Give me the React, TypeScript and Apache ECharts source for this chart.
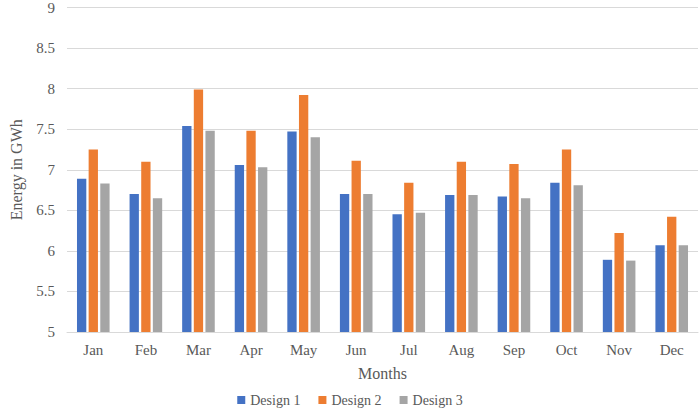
import React, { useEffect, useRef } from "react";
import * as echarts from "echarts";

const months = ["Jan", "Feb", "Mar", "Apr", "May", "Jun", "Jul", "Aug", "Sep", "Oct", "Nov", "Dec"];
const design1 = [6.89, 6.7, 7.54, 7.06, 7.47, 6.7, 6.45, 6.69, 6.67, 6.84, 5.89, 6.07];
const design2 = [7.25, 7.1, 7.99, 7.48, 7.92, 7.11, 6.84, 7.1, 7.07, 7.25, 6.22, 6.42];
const design3 = [6.83, 6.65, 7.48, 7.03, 7.4, 6.7, 6.47, 6.69, 6.65, 6.81, 5.88, 6.07];

const FONT = "'Liberation Serif', 'Times New Roman', serif";
const TXT = "#595959";

export default function App() {
  const ref = useRef<HTMLDivElement>(null);
  useEffect(() => {
    if (!ref.current) return;
    const chart = echarts.init(ref.current, undefined, { renderer: "svg" });
    const mk = (name: string, data: number[], color: string) => ({
      name,
      type: "bar",
      data,
      itemStyle: { color },
      barGap: "25%",
      barCategoryGap: "38%",
    });
    chart.setOption({
      animation: false,
      textStyle: { fontFamily: FONT },
      grid: { left: 50, right: 2, top: 5, bottom: 85 },
      legend: {
        bottom: 5,
        left: "center",
        itemWidth: 8,
        itemHeight: 8,
        itemGap: 18,
        icon: "rect",
        textStyle: { fontFamily: FONT, fontSize: 14, color: TXT },
        data: ["Design 1", "Design 2", "Design 3"],
      },
      xAxis: {
        type: "category",
        data: months,
        name: "Months",
        nameLocation: "middle",
        nameGap: 33,
        nameTextStyle: { fontFamily: FONT, fontSize: 16, color: TXT },
        axisLine: { show: true, lineStyle: { color: "#D9D9D9" } },
        axisTick: { show: false },
        axisLabel: { fontFamily: FONT, fontSize: 15, color: TXT, margin: 10 },
      },
      yAxis: {
        type: "value",
        min: 5,
        max: 9,
        interval: 0.5,
        name: "Energy in GWh",
        nameLocation: "middle",
        nameGap: 43,
        nameTextStyle: { fontFamily: FONT, fontSize: 16, color: TXT },
        axisLine: { show: false },
        axisTick: { show: false },
        axisLabel: { fontFamily: FONT, fontSize: 15, color: TXT, margin: 12 },
        splitLine: { lineStyle: { color: "#D9D9D9" } },
      },
      series: [
        mk("Design 1", design1, "#4472C4"),
        mk("Design 2", design2, "#ED7D31"),
        mk("Design 3", design3, "#A5A5A5"),
      ],
    });
    return () => chart.dispose();
  }, []);
  return (
    <div
      ref={ref}
      style={{ position: "fixed", left: 0, top: 0, width: 700, height: 417, background: "#fff" }}
    />
  );
}
